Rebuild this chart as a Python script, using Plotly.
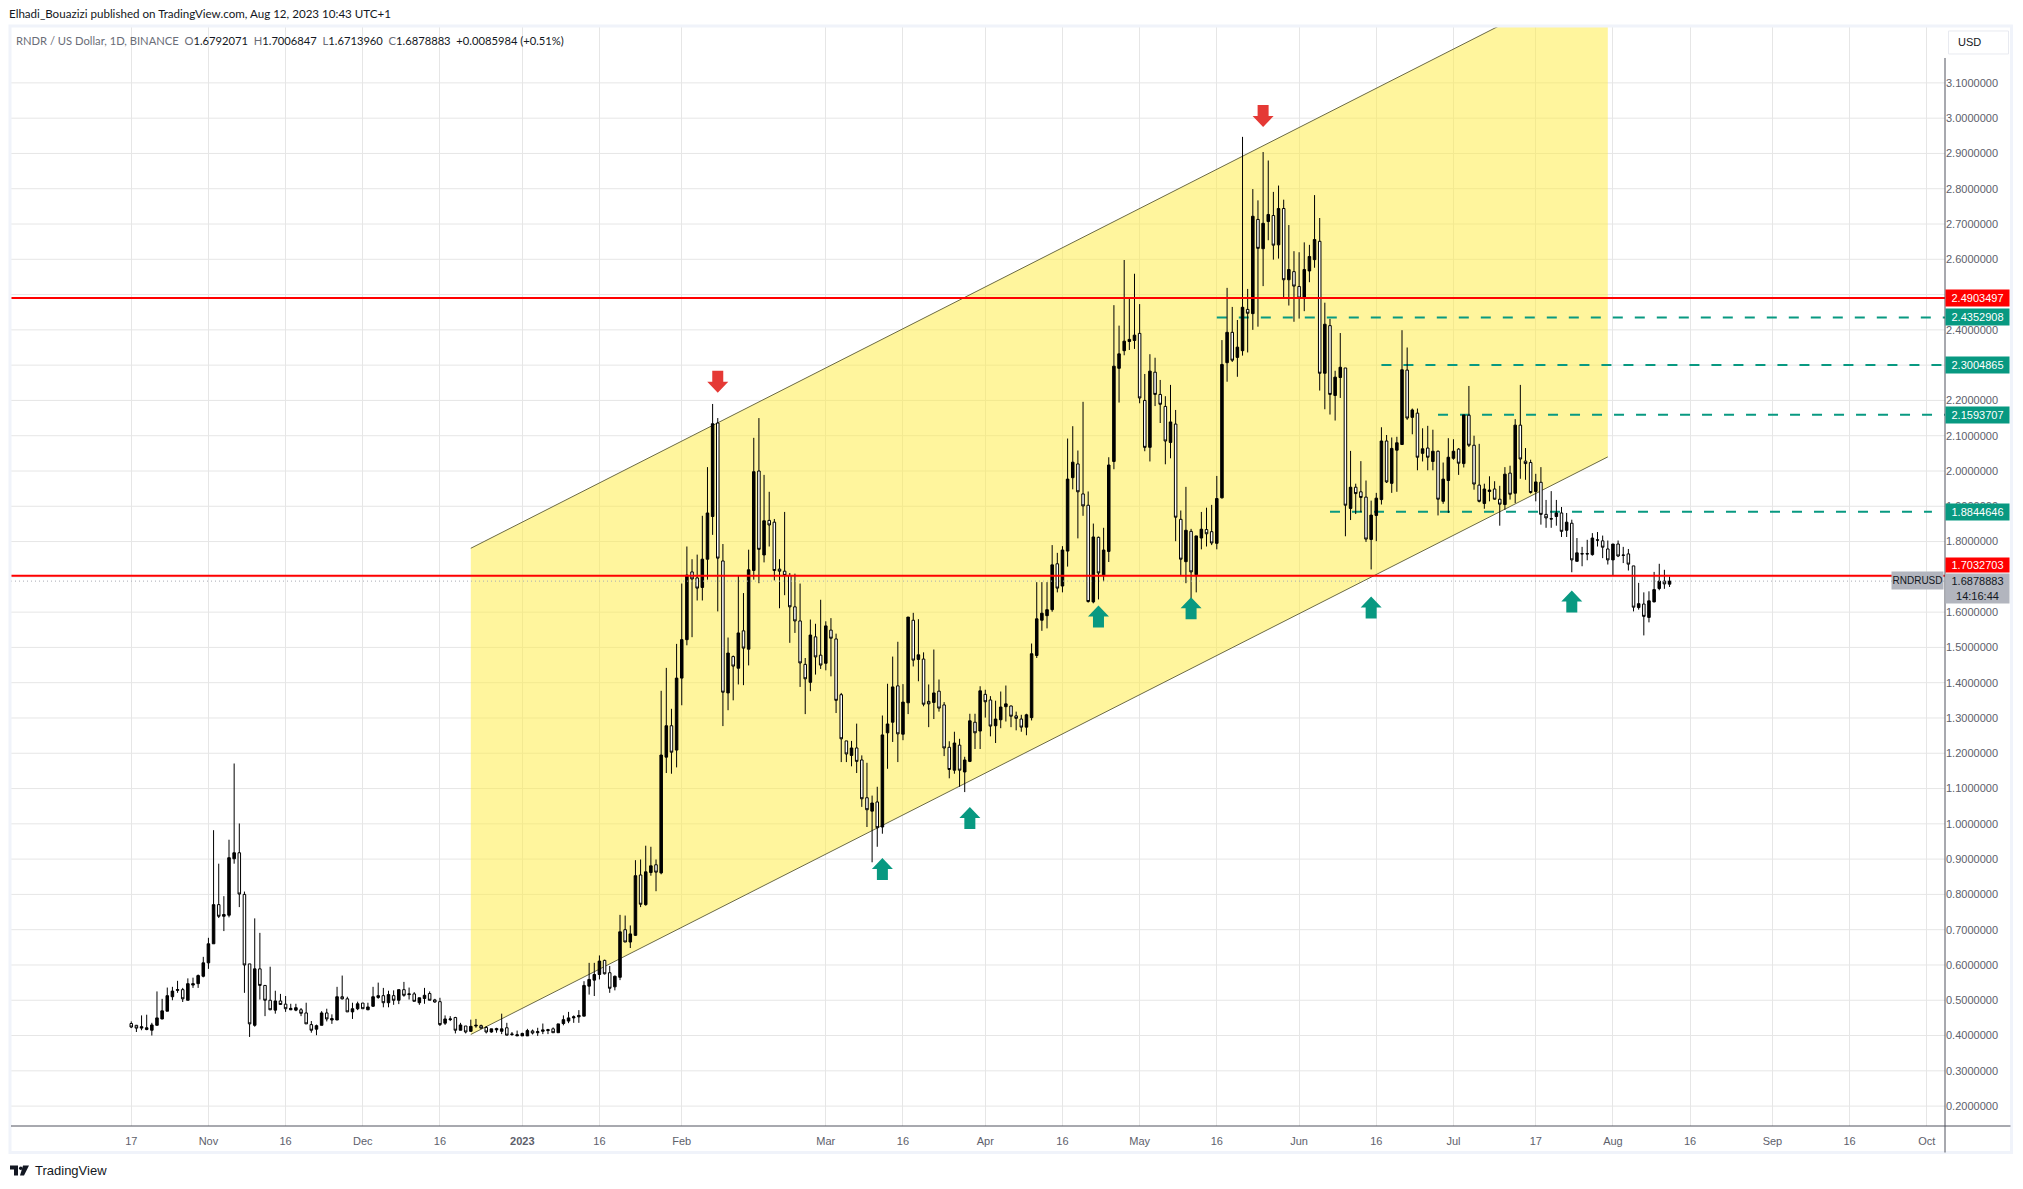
import pandas as pd
import plotly.graph_objects as go

# RNDR / USD daily candles
opens = [
    .434, .429, .421, .417, .415, .429, .447, .469, .510, .528,
    .530, .500, .543, .547, .568, .606, .660, .771, .738, .741,
    .901, .918, .800, .603, .429, .589, .542, .500, .472, .498,
    .489, .473, .472, .473, .464, .431, .418, .429, .464, .444,
    .444, .510, .504, .467, .476, .492, .473, .483, .508, .513,
    .493, .513, .500, .530, .516, .518, .493, .505, .519, .501,
    .496, .435, .445, .451, .415, .427, .412, .427, .428, .423,
    .410, .420, .412, .422, .403, .399, .399, .399, .413, .408,
    .412, .417, .419, .408, .434, .441, .450, .453, .455, .540,
    .557, .573, .613, .578, .538, .565, .700, .665, .684, .855,
    .771, .862, .884, .861, 1.189, 1.278, 1.209, 1.413, 1.522, 1.714,
    1.697, 1.670, 1.750, 1.871, 2.136, 1.745, 1.371, 1.474, 1.441, 1.547,
    1.495, 1.718, 2.000, 1.762, 1.860, 1.855, 1.722, 1.716, 1.704, 1.615,
    1.575, 1.452, 1.401, 1.530, 1.478, 1.455, 1.549, 1.524, 1.366, 1.235,
    1.194, 1.215, 1.181, 1.074, 1.036, 1.062, .991, 1.258, 1.288, 1.391,
    1.254, 1.343, 1.577, 1.466, 1.467, 1.347, 1.344, 1.376, 1.337, 1.217,
    1.152, 1.223, 1.147, 1.177, 1.288, 1.263, 1.367, 1.351, 1.278, 1.295,
    1.332, 1.334, 1.306, 1.297, 1.274, 1.301, 1.477, 1.577, 1.590, 1.607,
    1.737, 1.674, 1.773, 1.981, 2.020, 1.935, 1.903, 1.629, 1.812, 1.705,
    1.772, 2.027, 2.291, 2.341, 2.367, 2.370, 2.390, 2.200, 2.067, 2.280,
    2.217, 2.183, 2.081, 2.133, 1.863, 1.743, 1.829, 1.706, 1.810, 1.834,
    1.828, 1.795, 1.924, 2.307, 2.393, 2.322, 2.341, 2.458, 2.446, 2.713,
    2.630, 2.707, 2.724, 2.641, 2.744, 2.542, 2.565, 2.523, 2.489, 2.567,
    2.599, 2.651, 2.277, 2.412, 2.214, 2.265, 2.292, 1.894, 1.954, 1.941,
    1.926, 1.806, 1.874, 1.919, 2.085, 1.965, 2.059, 2.075, 2.286, 2.152,
    2.164, 2.050, 2.065, 2.027, 2.056, 1.914, 1.973, 2.036, 2.062, 2.021,
    2.158, 2.073, 1.960, 1.908, 1.942, 1.949, 1.920, 1.905, 1.994, 1.937,
    2.130, 2.028, 2.024, 1.942, 1.968, 1.877, 1.865, 1.871, 1.881, 1.832,
    1.852, 1.744, 1.766, 1.766, 1.763, 1.805, 1.802, 1.779, 1.748, 1.793,
    1.762, 1.765, 1.731, 1.613, 1.623, 1.585, 1.629, 1.667, 1.688, 1.6792071,
]
highs = [
    .440, .430, .457, .459, .436, .525, .504, .536, .538, .555,
    .535, .562, .564, .573, .623, .677, .982, .887, .795, .955,
    1.171, 1.001, .808, .603, .732, .691, .542, .595, .527, .518,
    .512, .490, .490, .478, .493, .441, .431, .469, .476, .460,
    .538, .570, .510, .493, .496, .492, .493, .538, .550, .535,
    .527, .528, .530, .552, .536, .523, .507, .535, .525, .504,
    .507, .457, .455, .453, .436, .427, .445, .447, .431, .427,
    .419, .422, .462, .436, .410, .414, .408, .419, .417, .422,
    .434, .419, .423, .433, .457, .467, .457, .472, .554, .606,
    .606, .627, .615, .597, .570, .742, .740, .712, .897, .899,
    .938, .935, .899, 1.377, 1.442, 1.326, 1.510, 1.681, 1.786, 1.750,
    1.763, 1.873, 2.011, 2.190, 2.150, 1.793, 1.528, 1.477, 1.703, 1.654,
    1.777, 2.094, 2.150, 1.989, 1.941, 1.864, 1.750, 1.884, 1.711, 1.709,
    1.681, 1.470, 1.579, 1.567, 1.635, 1.574, 1.583, 1.539, 1.371, 1.235,
    1.235, 1.284, 1.194, 1.173, 1.080, 1.105, 1.307, 1.397, 1.474, 1.516,
    1.396, 1.586, 1.598, 1.580, 1.486, 1.395, 1.494, 1.409, 1.345, 1.234,
    1.261, 1.241, 1.190, 1.312, 1.312, 1.390, 1.380, 1.362, 1.349, 1.375,
    1.392, 1.335, 1.318, 1.309, 1.312, 1.511, 1.685, 1.685, 1.685, 1.790,
    1.768, 1.787, 2.092, 2.127, 2.058, 2.196, 1.942, 1.851, 1.814, 1.839,
    2.039, 2.470, 2.412, 2.598, 2.491, 2.559, 2.473, 2.275, 2.331, 2.321,
    2.258, 2.212, 2.244, 2.173, 1.888, 1.955, 1.836, 1.816, 1.884, 1.896,
    1.904, 1.986, 2.371, 2.519, 2.465, 2.428, 2.947, 2.516, 2.799, 2.767,
    2.904, 2.880, 2.791, 2.809, 2.769, 2.697, 2.623, 2.620, 2.648, 2.641,
    2.782, 2.717, 2.477, 2.431, 2.284, 2.391, 2.292, 2.057, 1.964, 2.028,
    1.973, 1.916, 1.938, 2.124, 2.102, 2.095, 2.097, 2.399, 2.350, 2.177,
    2.177, 2.121, 2.128, 2.117, 2.058, 2.024, 2.093, 2.090, 2.065, 2.159,
    2.241, 2.100, 2.077, 1.964, 1.985, 1.971, 1.958, 2.011, 2.015, 2.147,
    2.244, 2.065, 2.032, 1.992, 2.011, 1.918, 1.943, 1.918, 1.898, 1.881,
    1.862, 1.810, 1.785, 1.805, 1.824, 1.827, 1.817, 1.803, 1.793, 1.803,
    1.785, 1.779, 1.731, 1.683, 1.656, 1.659, 1.714, 1.737, 1.720, 1.7006847,
]
lows = [
    .421, .410, .415, .415, .400, .429, .446, .469, .500, .521,
    .495, .500, .535, .535, .565, .589, .660, .733, .696, .735,
    .887, .764, .521, .396, .425, .502, .455, .472, .462, .488,
    .467, .472, .469, .455, .433, .408, .401, .429, .440, .433,
    .444, .502, .467, .447, .472, .476, .472, .481, .504, .480,
    .480, .487, .489, .510, .502, .497, .487, .490, .500, .493,
    .427, .430, .441, .406, .415, .406, .410, .422, .419, .406,
    .408, .408, .404, .400, .399, .399, .399, .399, .403, .399,
    .404, .404, .408, .408, .429, .435, .436, .436, .455, .516,
    .512, .559, .573, .521, .528, .557, .665, .648, .682, .764,
    .768, .853, .809, .857, 1.144, 1.142, 1.160, 1.336, 1.506, 1.529,
    1.633, 1.633, 1.692, 1.819, 1.602, 1.277, 1.322, 1.350, 1.395, 1.393,
    1.449, 1.692, 1.682, 1.741, 1.786, 1.690, 1.611, 1.648, 1.513, 1.541,
    1.388, 1.311, 1.376, 1.423, 1.439, 1.435, 1.418, 1.314, 1.175, 1.175,
    1.163, 1.144, 1.048, .991, .891, .935, .972, 1.156, 1.232, 1.175,
    1.237, 1.311, 1.446, 1.404, 1.333, 1.274, 1.297, 1.318, 1.192, 1.129,
    1.142, 1.105, 1.090, 1.175, 1.212, 1.212, 1.301, 1.248, 1.229, 1.271,
    1.290, 1.274, 1.265, 1.261, 1.251, 1.293, 1.470, 1.547, 1.554, 1.601,
    1.656, 1.656, 1.729, 1.948, 1.809, 1.873, 1.627, 1.625, 1.636, 1.687,
    1.742, 2.005, 2.194, 2.328, 2.343, 2.346, 2.192, 2.056, 2.027, 2.184,
    2.136, 2.019, 2.036, 1.801, 1.705, 1.682, 1.631, 1.656, 1.778, 1.786,
    1.790, 1.778, 1.922, 2.253, 2.309, 2.267, 2.327, 2.336, 2.400, 2.409,
    2.524, 2.654, 2.599, 2.602, 2.490, 2.469, 2.423, 2.432, 2.453, 2.535,
    2.576, 2.228, 2.175, 2.160, 2.143, 2.207, 1.815, 1.861, 1.878, 1.883,
    1.799, 1.721, 1.801, 1.905, 1.966, 1.938, 1.941, 2.075, 2.145, 2.104,
    2.002, 2.027, 2.002, 2.002, 1.874, 1.907, 1.881, 2.032, 1.989, 2.010,
    2.068, 1.947, 1.911, 1.893, 1.914, 1.919, 1.845, 1.890, 1.919, 1.909,
    1.978, 1.975, 1.936, 1.914, 1.848, 1.839, 1.839, 1.845, 1.813, 1.813,
    1.713, 1.744, 1.730, 1.747, 1.760, 1.786, 1.753, 1.735, 1.705, 1.756,
    1.739, 1.718, 1.602, 1.607, 1.534, 1.571, 1.628, 1.662, 1.666, 1.6713960,
]
closes = [
    .424, .421, .425, .422, .430, .450, .470, .513, .526, .530,
    .504, .547, .547, .570, .606, .660, .771, .738, .743, .904,
    .918, .801, .600, .433, .589, .542, .500, .473, .498, .488,
    .476, .477, .479, .463, .433, .415, .428, .464, .447, .448,
    .510, .504, .467, .476, .490, .476, .481, .510, .513, .493,
    .516, .500, .530, .514, .518, .497, .507, .514, .500, .495,
    .431, .447, .447, .415, .430, .410, .426, .429, .421, .410,
    .419, .416, .419, .401, .404, .402, .406, .414, .407, .411,
    .416, .414, .408, .433, .445, .450, .453, .457, .542, .559,
    .573, .611, .575, .534, .568, .694, .665, .688, .853, .772,
    .864, .881, .863, 1.195, 1.278, 1.203, 1.413, 1.522, 1.705, 1.694,
    1.668, 1.750, 1.881, 2.134, 1.753, 1.373, 1.484, 1.447, 1.541, 1.498,
    1.720, 1.998, 1.778, 1.859, 1.847, 1.718, 1.716, 1.704, 1.615, 1.575,
    1.456, 1.411, 1.535, 1.473, 1.450, 1.561, 1.526, 1.350, 1.241, 1.198,
    1.215, 1.177, 1.071, 1.040, 1.059, .989, 1.252, 1.283, 1.388, 1.255,
    1.345, 1.586, 1.464, 1.479, 1.339, 1.340, 1.371, 1.328, 1.215, 1.154,
    1.229, 1.152, 1.181, 1.292, 1.258, 1.377, 1.346, 1.277, 1.297, 1.331,
    1.340, 1.305, 1.299, 1.274, 1.309, 1.482, 1.581, 1.597, 1.607, 1.734,
    1.668, 1.776, 1.977, 2.025, 1.941, 1.901, 1.630, 1.813, 1.711, 1.776,
    2.017, 2.297, 2.332, 2.368, 2.373, 2.385, 2.207, 2.067, 2.283, 2.217,
    2.189, 2.085, 2.139, 1.869, 1.750, 1.832, 1.714, 1.816, 1.835, 1.822,
    1.796, 1.922, 2.302, 2.393, 2.314, 2.351, 2.464, 2.447, 2.722, 2.631,
    2.702, 2.727, 2.640, 2.744, 2.542, 2.571, 2.524, 2.490, 2.571, 2.608,
    2.656, 2.277, 2.416, 2.217, 2.266, 2.294, 1.903, 1.954, 1.936, 1.925,
    1.807, 1.875, 1.923, 2.085, 1.969, 2.064, 2.080, 2.287, 2.150, 2.173,
    2.039, 2.063, 2.039, 2.056, 1.920, 1.977, 2.039, 2.056, 2.022, 2.159,
    2.073, 1.963, 1.914, 1.949, 1.946, 1.920, 1.906, 1.991, 1.934, 2.130,
    2.034, 2.021, 1.939, 1.969, 1.877, 1.867, 1.864, 1.881, 1.829, 1.855,
    1.748, 1.768, 1.765, 1.765, 1.810, 1.804, 1.784, 1.748, 1.793, 1.759,
    1.761, 1.736, 1.614, 1.624, 1.588, 1.632, 1.664, 1.688, 1.680, 1.6878883,
]
dates = pd.date_range("2022-10-17", periods=len(opens), freq="D")

x_ticks = ["2022-10-17", "2022-11-01", "2022-11-16", "2022-12-01", "2022-12-16", "2023-01-01",
           "2023-01-16", "2023-02-01", "2023-03-01", "2023-03-16", "2023-04-01", "2023-04-16",
           "2023-05-01", "2023-05-16", "2023-06-01", "2023-06-16", "2023-07-01", "2023-07-17",
           "2023-08-01", "2023-08-16", "2023-09-01", "2023-09-16", "2023-10-01"]
x_labels = ["17", "Nov", "16", "Dec", "16", "<b>2023</b>", "16", "Feb", "Mar", "16", "Apr", "16",
            "May", "16", "Jun", "16", "Jul", "17", "Aug", "16", "Sep", "16", "Oct"]

# prices behind a tag are left out: 2.5, 2.3 and 1.7 do not show in the original
y_ticks = [0.2, 0.3, 0.4, 0.5, 0.6, 0.7, 0.8, 0.9, 1.0, 1.1, 1.2, 1.3, 1.4, 1.5, 1.6, 1.8, 1.9,
           2.0, 2.1, 2.2, 2.4, 2.6, 2.7, 2.8, 2.9, 3.0, 3.1]
y_grid = [0.2, 0.3, 0.4, 0.5, 0.6, 0.7, 0.8, 0.9, 1.0, 1.1, 1.2, 1.3, 1.4, 1.5, 1.6, 1.7, 1.8, 1.9,
          2.0, 2.1, 2.2, 2.3, 2.4, 2.5, 2.6, 2.7, 2.8, 2.9, 3.0, 3.1]

# channel
channel_x = ["2022-12-22", "2023-07-31"]
channel_low = [0.403, 2.040]
channel_high = [1.781, 3.418]

# horizontal levels
red_levels = [2.4903497, 1.7032703]
green_levels = [2.4352908, 2.3004865, 2.1593707, 1.8844646]
green_starts = ["2023-05-16", "2023-06-17", "2023-06-28", "2023-06-07"]
green_ends = ["2023-10-05", "2023-10-05", "2023-10-05", "2023-10-02"]
last_price = 1.6878883

# arrows, anchored at the tip
up_dates = ["2023-03-12", "2023-03-29", "2023-04-23", "2023-05-11", "2023-06-15", "2023-07-24"]
up_prices = [0.903, 1.048, 1.619, 1.642, 1.644, 1.661]
down_dates = ["2023-02-08", "2023-05-25"]
down_prices = [2.222, 2.975]

x_range = ["2022-09-23 15:00", "2023-10-04 13:00"]
y_range = [0.1436, 3.2612]

W, H = 2023, 1189
ML, MR, MT, MB = 11, 77.5, 26, 62.5
GREEN = "#089981"
RED = "#ff0000"
ARROW_RED = "#e53935"
GREY_TAG = "#b2b5be"
GRID = "#e6e6e6"
INK = "#131722"
AXIS_TXT = "#5d606b"
FONT = "Liberation Sans"
NARROW = "Lato"


def px(x):
    return (x - ML) / (W - ML - MR)


def py(y):
    return 1 - (y - MT) / (H - MT - MB)


fig = go.Figure()

fig.add_trace(go.Candlestick(
    x=dates, open=opens, high=highs, low=lows, close=closes,
    increasing=dict(line=dict(color="black", width=1), fillcolor="black"),
    decreasing=dict(line=dict(color="black", width=1), fillcolor="white"),
    whiskerwidth=0, hoverinfo="skip", showlegend=False,
))

for lvl in red_levels:
    fig.add_trace(go.Scatter(x=x_range, y=[lvl, lvl], mode="lines", showlegend=False, hoverinfo="skip",
                             line=dict(color=RED, width=2)))
fig.add_trace(go.Scatter(x=x_range, y=[last_price, last_price], mode="lines", showlegend=False, hoverinfo="skip",
                         line=dict(color="#a8abb4", width=1, dash="1px,3px")))

shapes = []
# grid lines of the hidden tick labels have to stay, so the grid is drawn by hand
for g in y_grid:
    shapes.append(dict(type="line", xref="paper", yref="y", x0=0, x1=1, y0=g, y1=g, layer="below",
                       line=dict(color=GRID, width=1)))
# yellow channel under the candles
path = "M {0},{2} L {1},{3} L {1},{5} L {0},{4} Z".format(channel_x[0], channel_x[1], channel_low[0], channel_low[1],
                                                          channel_high[0], channel_high[1])
shapes.append(dict(type="path", path=path, xref="x", yref="y", layer="between",
                   fillcolor="rgba(255,235,59,0.5)", line=dict(width=0)))
for edge in [channel_low, channel_high]:
    shapes.append(dict(type="line", x0=channel_x[0], x1=channel_x[1], y0=edge[0], y1=edge[1], xref="x", yref="y",
                       layer="between", line=dict(color="#6b6a45", width=1)))
for lvl, start, end in zip(green_levels, green_starts, green_ends):
    shapes.append(dict(type="line", x0=start, x1=end, y0=lvl, y1=lvl, xref="x", yref="y", layer="between",
                       line=dict(color=GREEN, width=2, dash="10px,12px")))

# block arrows, sized in pixels
UP = "M 0,0 L 10.5,-11 L 5.5,-11 L 5.5,-22 L -5.5,-22 L -5.5,-11 L -10.5,-11 Z"
DOWN = "M 0,0 L 10.5,11 L 5.5,11 L 5.5,22 L -5.5,22 L -5.5,11 L -10.5,11 Z"
for d, p in zip(up_dates, up_prices):
    shapes.append(dict(type="path", path=UP, xref="x", yref="y", xsizemode="pixel", ysizemode="pixel",
                       xanchor=d, yanchor=p, fillcolor=GREEN, line=dict(width=0)))
for d, p in zip(down_dates, down_prices):
    shapes.append(dict(type="path", path=DOWN, xref="x", yref="y", xsizemode="pixel", ysizemode="pixel",
                       xanchor=d, yanchor=p, fillcolor=ARROW_RED, line=dict(width=0)))

# frame and axis lines
FRAME = "#f0f3fa"
shapes.append(dict(type="rect", xref="paper", yref="paper", x0=px(10), x1=px(2012), y0=py(1153), y1=py(26),
                   line=dict(color=FRAME, width=3), layer="above"))
shapes.append(dict(type="line", xref="paper", yref="paper", x0=1, x1=1, y0=py(1153), y1=py(58),
                   line=dict(color="#50535e", width=1), layer="above"))
shapes.append(dict(type="line", xref="paper", yref="paper", x0=px(11), x1=px(2011), y0=0, y1=0,
                   line=dict(color="#50535e", width=1), layer="above"))
# USD button
shapes.append(dict(type="rect", xref="paper", yref="paper", x0=px(1949), x1=px(2009), y0=py(54), y1=py(31),
                   line=dict(color="#e8eaf0", width=1), fillcolor="white", layer="above"))
# TradingView logo
logo = ["M 10,1166 L 18,1166 L 18,1176 L 14,1176 L 14,1170 L 10,1170 Z",
        "M 23,1166 L 29,1166 L 24,1176 L 20,1176 Z"]
for piece in logo:
    pts = piece.split(" ")
    out = []
    for tok in pts:
        if "," in tok:
            a, b = tok.split(",")
            out.append("{:.6f},{:.6f}".format(px(float(a)), py(float(b))))
        else:
            out.append(tok)
    shapes.append(dict(type="path", path=" ".join(out), xref="paper", yref="paper", fillcolor=INK,
                       line=dict(width=0), layer="above"))
shapes.append(dict(type="circle", xref="paper", yref="paper", x0=px(19), x1=px(22.5), y0=py(1170.5), y1=py(1167),
                   fillcolor=INK, line=dict(width=0), layer="above"))

ann = []


def text_at(x, y, text, size=11, color=INK, font=FONT, anchor="left"):
    ann.append(dict(xref="paper", yref="paper", x=px(x), y=py(y), text=text, showarrow=False, xanchor=anchor,
                    yanchor="middle", font=dict(family=font, size=size, color=color)))


text_at(7, 13, "Elhadi_Bouazizi published on TradingView.com, Aug 12, 2023 10:43 UTC+1", size=11.6, font=NARROW)
val = '<span style="color:#131722">{}</span>'
legend = ("RNDR / US Dollar, 1D, BINANCE&nbsp;&nbsp;O" + val.format("1.6792071") + "&nbsp;&nbsp;H" + val.format("1.7006847")
          + "&nbsp;&nbsp;L" + val.format("1.6713960") + "&nbsp;&nbsp;C" + val.format("1.6878883")
          + "&nbsp;&nbsp;" + val.format("+0.0085984 (+0.51%)"))
text_at(14, 41, legend, size=11.2, color="#6a6d78", font=NARROW)
text_at(1957, 42.5, "USD", size=11, color=INK)
text_at(33, 1171, "TradingView", size=13, color=INK)

# price tags on the axis
tag_text = ["2.4903497", "2.4352908", "2.3004865", "2.1593707", "1.8844646", "1.7032703"]
tag_y = [298, 317, 365, 415, 512, 565.5]
tag_h = [16, 16, 16, 16, 16, 14]
tag_bg = [RED, GREEN, GREEN, GREEN, GREEN, RED]
for t, y, h, bg in zip(tag_text, tag_y, tag_h, tag_bg):
    ann.append(dict(xref="paper", yref="paper", x=1, y=py(y), text=t, showarrow=False, xanchor="left", yanchor="middle",
                    width=63, height=h, bgcolor=bg, align="center", borderpad=0,
                    font=dict(family=FONT, size=11, color="white")))
ann.append(dict(xref="paper", yref="paper", x=1, y=py(588.5), text="1.6878883<br>14:16:44", showarrow=False,
                xanchor="left", yanchor="middle", width=63, height=29, bgcolor=GREY_TAG, align="center", borderpad=0,
                font=dict(family=FONT, size=11, color=INK)))
ann.append(dict(xref="paper", yref="paper", x=px(1891), y=py(581), text="RNDRUSD", showarrow=False,
                xanchor="left", yanchor="middle", width=51, height=17, bgcolor=GREY_TAG, align="center", borderpad=0,
                font=dict(family=FONT, size=10, color=INK)))

fig.update_layout(
    width=W, height=H,
    margin=dict(l=ML, r=MR, t=MT, b=MB, autoexpand=False),
    paper_bgcolor="white", plot_bgcolor="white",
    showlegend=False,
    shapes=shapes, annotations=ann,
    font=dict(family=FONT, size=11, color=AXIS_TXT),
    xaxis=dict(type="date", range=x_range, tickmode="array", tickvals=x_ticks, ticktext=x_labels,
               showgrid=True, gridcolor=GRID, gridwidth=1, zeroline=False, showline=False, ticks="",
               ticklabelstandoff=7,
               rangeslider=dict(visible=False), tickfont=dict(family=FONT, size=11, color=AXIS_TXT)),
    yaxis=dict(range=y_range, side="right", tickmode="array", tickvals=y_ticks, tickformat=".7f",
               showgrid=False, zeroline=False, showline=False, ticks="",
               tickfont=dict(family=FONT, size=11, color=AXIS_TXT)),
)

fig.write_html("out.html", config={"displayModeBar": False}, post_script="document.body.style.margin='0';")
